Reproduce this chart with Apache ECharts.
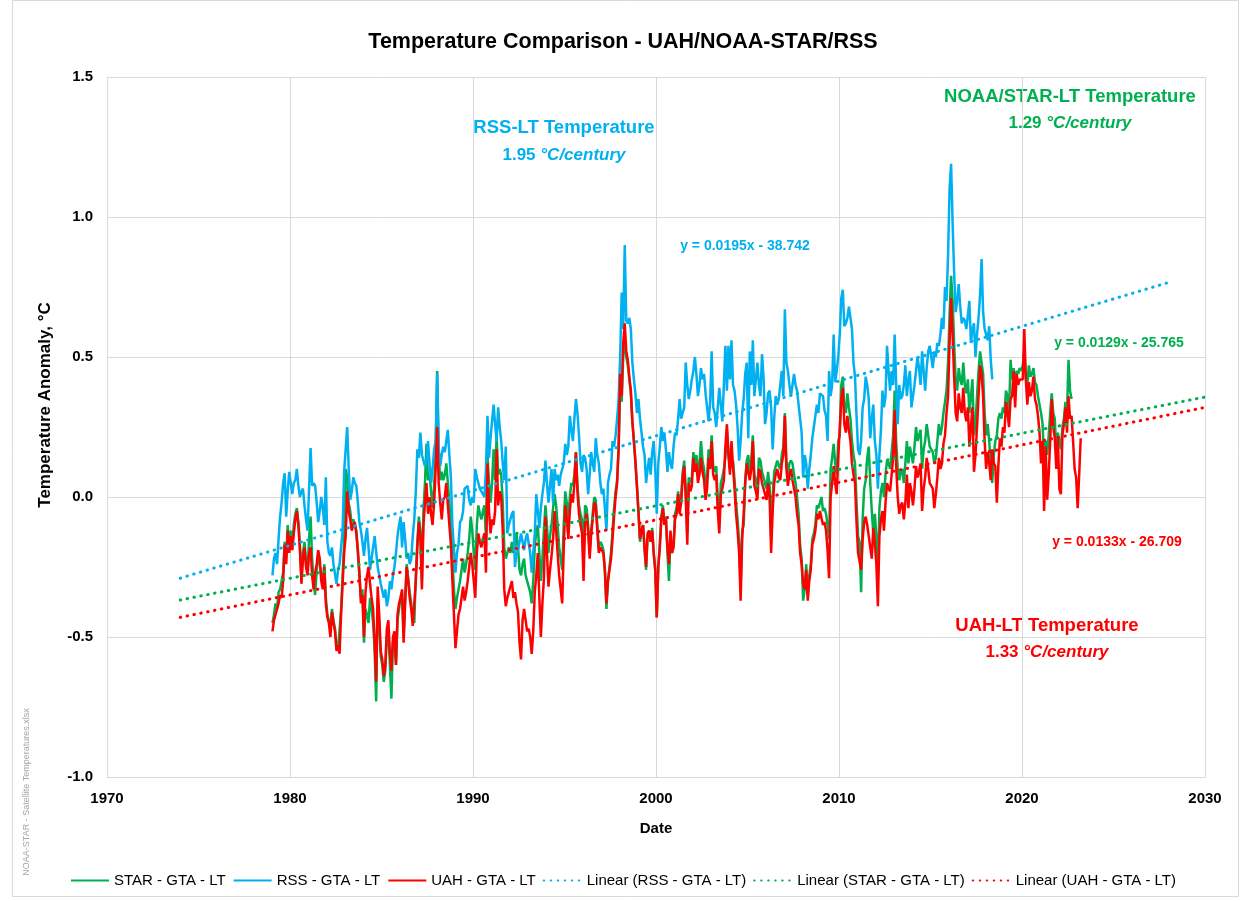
<!DOCTYPE html>
<html>
<head>
<meta charset="utf-8">
<script src="https://cdn.jsdelivr.net/npm/echarts@6/dist/echarts.min.js"></script>
<style>
  html, body { margin: 0; padding: 0; background: #fff; }
  #chart { width: 1246px; height: 901px; }
</style>
</head>
<body>
<div id="chart"></div>
<script>
// monthly anomalies, first value = Jan 1979
var startYear = 1979;

var uahLT = [
  -0.48,-0.44,-0.42,-0.40,-0.38,-0.35,-0.36,-0.30,-0.17,-0.24,-0.12,-0.20,
  -0.14,-0.19,-0.13,-0.08,-0.05,-0.10,-0.19,-0.31,-0.22,-0.18,-0.25,-0.28,
  -0.20,-0.18,-0.28,-0.33,-0.27,-0.24,-0.19,-0.22,-0.30,-0.33,-0.25,-0.38,
  -0.43,-0.45,-0.50,-0.41,-0.45,-0.48,-0.55,-0.53,-0.56,-0.42,-0.31,-0.20,
  -0.14,0.02,-0.05,-0.08,-0.12,-0.10,-0.09,-0.13,-0.19,-0.27,-0.38,-0.35,
  -0.50,-0.34,-0.28,-0.25,-0.31,-0.36,-0.40,-0.52,-0.66,-0.32,-0.42,-0.55,
  -0.58,-0.64,-0.60,-0.47,-0.44,-0.56,-0.62,-0.50,-0.48,-0.60,-0.42,-0.38,
  -0.36,-0.33,-0.52,-0.38,-0.25,-0.30,-0.36,-0.40,-0.46,-0.46,-0.30,-0.18,
  -0.09,-0.14,-0.33,-0.10,-0.02,0.05,-0.06,0.00,-0.06,-0.10,-0.02,0.10,
  0.25,0.05,-0.02,-0.08,-0.01,0.00,0.05,-0.03,-0.10,-0.17,-0.30,-0.42,
  -0.54,-0.48,-0.42,-0.40,-0.36,-0.32,-0.37,-0.34,-0.30,-0.25,-0.20,-0.24,
  -0.30,-0.36,-0.20,-0.13,-0.16,-0.18,-0.15,-0.13,-0.27,0.12,-0.05,-0.13,
  -0.08,-0.10,-0.05,0.17,-0.03,0.02,0.00,-0.12,-0.33,-0.39,-0.36,-0.34,
  -0.34,-0.30,-0.36,-0.34,-0.38,-0.41,-0.52,-0.58,-0.44,-0.40,-0.44,-0.48,
  -0.47,-0.50,-0.56,-0.48,-0.34,-0.28,-0.20,-0.36,-0.50,-0.38,-0.29,-0.07,
  -0.20,-0.32,-0.26,-0.21,-0.15,-0.05,-0.12,-0.20,-0.28,-0.33,-0.38,-0.18,
  -0.03,-0.08,-0.15,-0.05,0.01,-0.02,0.05,0.16,0.02,-0.06,-0.10,-0.13,
  -0.30,-0.08,-0.06,-0.12,-0.22,-0.13,-0.08,-0.02,-0.03,-0.12,-0.20,-0.18,
  -0.18,-0.20,-0.26,-0.38,-0.30,-0.26,-0.22,-0.15,-0.07,0.00,0.05,0.18,
  0.44,0.36,0.55,0.62,0.52,0.49,0.43,0.38,0.27,0.20,0.13,0.04,
  -0.05,-0.15,-0.12,-0.10,-0.18,-0.25,-0.13,-0.12,-0.16,-0.12,-0.20,-0.26,
  -0.43,-0.25,-0.18,-0.08,-0.04,-0.10,-0.08,-0.18,-0.24,-0.12,-0.20,-0.18,
  -0.08,-0.06,0.01,-0.06,-0.02,0.07,0.11,0.00,-0.17,0.05,0.02,0.04,
  0.14,0.09,0.12,0.05,0.08,0.14,0.09,0.06,-0.01,0.03,0.14,0.10,
  0.20,0.08,0.06,0.08,-0.05,-0.13,0.01,0.03,0.06,0.18,0.26,0.15,
  0.08,0.20,0.11,0.03,-0.06,-0.12,-0.20,-0.37,-0.15,-0.06,0.05,0.12,
  0.12,0.06,0.10,0.20,0.04,0.02,-0.01,0.10,0.09,0.05,0.03,0.01,
  -0.01,0.05,0.00,-0.20,-0.05,0.05,0.08,0.10,0.07,0.06,0.12,0.15,
  0.29,0.10,0.04,0.08,0.10,0.06,0.03,0.00,-0.06,-0.10,-0.20,-0.24,
  -0.31,-0.33,-0.26,-0.37,-0.30,-0.26,-0.17,-0.15,-0.12,-0.06,-0.08,-0.05,
  -0.05,-0.10,-0.09,-0.12,-0.19,-0.29,0.00,0.05,0.11,0.05,0.01,0.14,
  0.14,0.35,0.39,0.26,0.23,0.29,0.24,0.20,0.12,0.08,0.05,-0.09,
  -0.20,-0.20,-0.26,-0.15,-0.09,-0.07,-0.10,-0.14,-0.18,-0.22,-0.11,-0.16,
  -0.24,-0.39,-0.14,-0.08,-0.05,-0.12,-0.02,0.05,0.03,0.02,0.08,0.14,
  0.31,0.11,0.00,-0.06,-0.03,-0.02,-0.08,-0.02,0.08,-0.04,0.05,0.02,
  -0.03,0.03,0.11,0.07,0.09,0.12,-0.05,0.03,0.07,0.14,0.10,0.05,
  0.05,0.03,-0.04,0.01,0.07,0.14,0.10,0.12,0.19,0.22,0.30,0.36,
  0.55,0.71,0.58,0.43,0.30,0.27,0.37,0.32,0.30,0.39,0.30,0.27,
  0.32,0.18,0.25,0.32,0.09,0.15,0.25,0.36,0.47,0.44,0.36,0.20,
  0.10,0.16,0.12,0.06,0.17,0.12,0.11,-0.02,0.11,0.21,0.18,0.25,
  0.23,0.34,0.30,0.25,0.35,0.36,0.45,0.32,0.44,0.40,0.42,0.42,
  0.42,0.60,0.42,0.33,0.41,0.36,0.38,0.43,0.35,0.33,0.29,0.23,
  0.12,0.20,-0.05,0.18,-0.01,0.08,0.20,0.35,0.25,0.21,0.10,0.21,
  0.03,0.01,0.22,0.26,0.32,0.23,0.36,0.28,0.29,0.20,0.10,0.07,
  -0.04,0.08,0.21
];

var starLT = [
  -0.45,-0.42,-0.38,-0.40,-0.34,-0.33,-0.33,-0.27,-0.16,-0.22,-0.10,-0.19,
  -0.12,-0.17,-0.10,-0.06,-0.04,-0.09,-0.17,-0.29,-0.20,-0.16,-0.23,-0.27,
  -0.15,-0.07,-0.22,-0.31,-0.35,-0.26,-0.20,-0.20,-0.28,-0.30,-0.24,-0.36,
  -0.42,-0.44,-0.47,-0.40,-0.44,-0.47,-0.53,-0.55,-0.55,-0.40,-0.28,-0.17,
  0.10,0.07,-0.02,-0.05,-0.10,-0.08,-0.08,-0.12,-0.20,-0.28,-0.36,-0.33,
  -0.52,-0.40,-0.42,-0.45,-0.36,-0.40,-0.45,-0.55,-0.73,-0.36,-0.45,-0.57,
  -0.60,-0.66,-0.62,-0.50,-0.47,-0.60,-0.72,-0.52,-0.50,-0.60,-0.44,-0.40,
  -0.36,-0.34,-0.50,-0.36,-0.24,-0.29,-0.34,-0.38,-0.44,-0.45,-0.28,-0.16,
  -0.07,-0.12,-0.30,-0.05,0.05,0.19,0.06,0.08,0.02,-0.04,0.04,0.15,
  0.45,0.15,0.06,0.09,0.06,0.08,0.12,0.05,-0.02,-0.10,-0.22,-0.33,
  -0.40,-0.36,-0.33,-0.30,-0.26,-0.22,-0.27,-0.24,-0.20,-0.15,-0.07,-0.12,
  -0.20,-0.26,-0.10,-0.03,-0.06,-0.08,-0.05,-0.03,-0.15,0.15,0.05,-0.02,
  0.05,0.17,0.06,0.22,0.08,0.10,0.08,-0.02,-0.18,-0.22,-0.20,-0.18,
  -0.20,-0.16,-0.20,-0.18,-0.13,-0.18,-0.26,-0.28,-0.24,-0.22,-0.28,-0.30,
  -0.30,-0.34,-0.38,-0.30,-0.18,-0.12,-0.10,-0.20,-0.30,-0.22,-0.12,-0.03,
  -0.10,-0.20,-0.14,-0.10,-0.04,0.01,-0.03,-0.10,-0.18,-0.22,-0.26,-0.10,
  0.02,-0.02,-0.08,0.00,0.05,0.04,0.08,0.16,0.04,-0.03,-0.06,-0.08,
  -0.24,-0.03,-0.04,-0.10,-0.20,-0.12,-0.06,0.00,-0.01,-0.10,-0.18,-0.16,
  -0.17,-0.19,-0.27,-0.40,-0.30,-0.25,-0.20,-0.12,-0.04,0.02,0.06,0.17,
  0.40,0.34,0.50,0.57,0.50,0.47,0.42,0.37,0.27,0.20,0.12,0.04,
  -0.06,-0.16,-0.12,-0.10,-0.19,-0.26,-0.14,-0.12,-0.16,-0.11,-0.20,-0.26,
  -0.43,-0.25,-0.17,-0.07,-0.03,-0.09,-0.07,-0.20,-0.30,-0.14,-0.20,-0.17,
  -0.06,-0.04,0.02,-0.04,0.00,0.09,0.13,0.03,-0.13,0.07,0.05,0.07,
  0.16,0.12,0.15,0.09,0.12,0.20,0.13,0.10,0.04,0.07,0.17,0.13,
  0.22,0.11,0.09,0.11,-0.01,-0.09,0.05,0.07,0.10,0.14,0.24,0.16,
  0.10,0.12,0.13,0.06,-0.02,-0.08,-0.16,-0.32,-0.12,-0.10,0.06,0.13,
  0.15,0.09,0.13,0.22,0.08,0.06,0.03,0.14,0.13,0.09,0.07,0.05,
  0.03,0.09,0.04,-0.14,0.00,0.09,0.11,0.13,0.11,0.10,0.15,0.18,
  0.30,0.13,0.08,0.12,0.13,0.12,0.08,0.05,0.00,-0.06,-0.17,-0.22,
  -0.37,-0.33,-0.24,-0.35,-0.28,-0.24,-0.15,-0.13,-0.10,-0.03,-0.04,-0.02,
  0.00,-0.05,-0.04,-0.06,-0.10,-0.15,0.10,0.14,0.19,0.12,0.08,0.20,
  0.22,0.40,0.43,0.32,0.30,0.37,0.32,0.28,0.20,0.15,0.12,-0.02,
  -0.14,-0.16,-0.34,-0.08,0.03,0.06,0.14,0.18,0.05,-0.05,-0.13,-0.06,
  -0.14,-0.28,-0.04,0.02,0.05,0.00,0.08,0.13,0.12,0.10,0.16,0.22,
  0.38,0.20,0.10,0.06,0.09,0.10,0.05,0.12,0.20,0.12,0.18,0.15,
  0.12,0.18,0.25,0.20,0.22,0.24,0.10,0.17,0.20,0.26,0.22,0.18,
  0.18,0.16,0.12,0.14,0.20,0.26,0.22,0.25,0.30,0.34,0.38,0.48,
  0.65,0.79,0.70,0.55,0.42,0.38,0.46,0.42,0.40,0.48,0.40,0.37,
  0.42,0.30,0.36,0.42,0.22,0.26,0.36,0.45,0.52,0.52,0.44,0.30,
  0.22,0.26,0.20,0.12,0.05,0.15,0.20,0.22,0.28,0.30,0.28,0.32,
  0.30,0.38,0.36,0.30,0.49,0.42,0.46,0.40,0.45,0.44,0.46,0.45,
  0.47,0.52,0.43,0.40,0.47,0.43,0.44,0.46,0.41,0.40,0.36,0.33,
  0.30,0.26,0.13,0.20,0.15,0.22,0.30,0.37,0.30,0.28,0.15,0.23,
  0.20,0.17,0.25,0.28,0.34,0.30,0.49,0.38,0.35
];

var rssLT = [
  -0.28,-0.22,-0.20,-0.24,-0.15,-0.07,-0.02,0.05,0.085,-0.07,0.02,0.09,
  0.09,0.01,0.05,0.06,0.10,0.04,0.00,0.02,0.03,-0.03,-0.08,-0.12,
  -0.12,0.175,0.04,0.05,0.04,-0.02,-0.09,-0.05,0.00,-0.04,-0.10,0.07,
  -0.16,-0.20,-0.21,-0.18,-0.24,-0.24,-0.31,-0.26,-0.24,-0.18,-0.12,0.09,
  0.09,0.25,0.10,-0.01,0.02,0.07,0.05,0.04,-0.02,-0.09,-0.12,-0.16,
  -0.21,-0.15,-0.11,-0.18,-0.26,-0.22,-0.18,-0.14,-0.14,-0.25,-0.28,-0.31,
  -0.31,-0.36,-0.33,-0.39,-0.36,-0.30,-0.33,-0.28,-0.25,-0.20,-0.14,-0.10,
  -0.07,-0.18,-0.09,-0.15,-0.22,-0.20,-0.24,-0.22,-0.14,-0.08,0.02,0.17,
  0.14,0.23,0.15,0.15,0.11,0.13,0.20,0.12,0.05,0.10,0.17,0.20,
  0.44,0.18,0.11,0.15,0.18,0.16,0.20,0.24,0.15,0.07,-0.10,-0.10,
  -0.27,-0.20,-0.17,-0.09,-0.08,-0.05,0.03,0.03,0.04,-0.01,-0.03,0.00,
  -0.02,0.10,0.07,0.05,0.03,0.02,0.01,0.00,0.10,0.29,0.14,0.21,
  0.21,0.33,0.26,0.20,0.32,0.25,0.20,0.12,0.06,0.18,-0.13,-0.10,
  -0.08,-0.06,-0.05,-0.25,-0.20,-0.19,-0.16,-0.13,-0.16,-0.19,-0.15,-0.13,
  -0.13,-0.20,-0.27,-0.20,-0.13,0.01,-0.05,-0.11,-0.04,0.01,0.05,0.13,
  0.05,-0.02,0.04,0.10,-0.02,0.10,0.06,0.08,0.04,0.08,0.10,0.12,
  0.19,0.15,0.18,0.29,0.24,0.20,0.28,0.35,0.30,0.22,0.12,0.09,
  0.15,0.14,0.10,0.01,0.08,0.16,0.12,0.09,0.21,0.15,0.12,0.05,
  0.01,0.03,-0.04,-0.12,0.05,0.08,0.10,0.20,0.18,0.22,0.28,0.35,
  0.50,0.73,0.60,0.90,0.63,0.62,0.64,0.60,0.48,0.42,0.37,0.30,
  0.35,0.28,0.23,0.18,0.15,0.05,0.10,0.14,0.08,0.16,0.20,0.10,
  -0.06,0.12,0.18,0.25,0.20,0.23,0.17,0.09,0.16,0.12,0.10,0.18,
  0.23,0.22,0.28,0.35,0.28,0.30,0.32,0.48,0.40,0.35,0.38,0.42,
  0.45,0.50,0.44,0.36,0.40,0.46,0.42,0.44,0.37,0.32,0.27,0.34,
  0.52,0.32,0.30,0.25,0.32,0.39,0.33,0.27,0.40,0.54,0.38,0.54,
  0.42,0.56,0.40,0.38,0.33,0.25,0.13,0.20,0.30,0.35,0.44,0.48,
  0.21,0.52,0.40,0.56,0.36,0.42,0.48,0.40,0.36,0.51,0.43,0.26,
  0.30,0.37,0.38,0.32,0.17,0.28,0.36,0.33,0.35,0.40,0.45,0.36,
  0.67,0.48,0.45,0.40,0.36,0.40,0.44,0.40,0.38,0.33,0.28,0.23,
  0.07,0.15,0.12,0.03,0.10,0.15,0.21,0.25,0.29,0.33,0.30,0.37,
  0.37,0.36,0.31,0.29,0.20,0.45,0.36,0.40,0.58,0.41,0.45,0.50,
  0.58,0.71,0.74,0.61,0.62,0.64,0.68,0.64,0.60,0.48,0.43,0.29,
  0.17,0.15,0.20,0.32,0.35,0.43,0.40,0.35,0.21,0.28,0.33,0.20,
  0.15,0.03,0.15,0.24,0.38,0.32,0.36,0.54,0.45,0.38,0.45,0.40,
  0.58,0.40,0.26,0.40,0.35,0.36,0.40,0.47,0.36,0.42,0.45,0.32,
  0.36,0.40,0.45,0.50,0.46,0.40,0.52,0.45,0.38,0.46,0.52,0.54,
  0.50,0.46,0.52,0.50,0.55,0.54,0.58,0.64,0.60,0.75,0.70,0.86,
  1.10,1.19,0.98,0.80,0.66,0.70,0.76,0.68,0.62,0.64,0.63,0.60,
  0.60,0.70,0.55,0.60,0.62,0.50,0.58,0.64,0.72,0.85,0.66,0.60,
  0.60,0.56,0.61,0.49,0.42
];

// linear trend end points [year, value] as drawn
var rssTrend = [[1974, -0.29], [2028.2, 0.77]];
var starTrend = [[1974, -0.368], [2030, 0.357]];
var uahTrend = [[1974, -0.43], [2030, 0.32]];

var GREEN = '#00B050', BLUE = '#00B0F0', RED = '#FF0000';
var FONT = '"Liberation Sans", Arial, sans-serif';

function toPoints(arr) {
  return arr.map(function (v, i) {
    return [startYear + (i + 0.5) / 12, v];
  });
}

var dom = document.getElementById('chart');
var myChart = echarts.init(dom);
var option = null;

var dotStyle = function (color) {
  return { color: color, width: 3, type: [0.5, 6.5], cap: 'round' };
};

var rateText = function (x, y, rate, color) {
  return { type: 'text', x: x, y: y,
    style: { text: '{n|' + rate + ' }{i|°C/century}', align: 'center', verticalAlign: 'middle',
      fill: color,
      rich: {
        n: { fontFamily: FONT, fontSize: 17, fontWeight: 'bold', fill: color },
        i: { fontFamily: FONT, fontSize: 17, fontWeight: 'bold', fontStyle: 'italic', fill: color }
      } } };
};

var plainText = function (x, y, text, color, size) {
  return { type: 'text', x: x, y: y,
    style: { text: text, fontFamily: FONT, fontSize: size, fontWeight: 'bold',
      fill: color, align: 'center', verticalAlign: 'middle' } };
};

option = {
  animation: false,
  backgroundColor: '#fff',
  title: {
    text: 'Temperature Comparison - UAH/NOAA-STAR/RSS',
    left: 'center',
    top: 26,
    textStyle: { fontFamily: FONT, fontSize: 21.5, fontWeight: 'bold', color: '#000' }
  },
  grid: { left: 107, right: 41, top: 77, bottom: 124, containLabel: false },
  legend: {
    top: 868,
    left: 'center',
    itemWidth: 38,
    itemHeight: 12,
    itemGap: 7,
    itemStyle: { opacity: 0 },
    textStyle: { fontFamily: FONT, fontSize: 15, color: '#000' },
    data: ['STAR - GTA - LT', 'RSS - GTA - LT', 'UAH - GTA - LT',
      'Linear (RSS - GTA - LT)', 'Linear (STAR - GTA - LT)', 'Linear (UAH - GTA - LT)']
  },
  xAxis: {
    type: 'value',
    min: 1970,
    max: 2030,
    interval: 10,
    name: 'Date',
    nameLocation: 'middle',
    nameGap: 44,
    nameTextStyle: { fontFamily: FONT, fontSize: 15, fontWeight: 'bold', color: '#000' },
    axisLine: { show: true, onZero: false, lineStyle: { color: '#d9d9d9', width: 1 } },
    axisTick: { show: false },
    axisLabel: {
      margin: 14, fontFamily: FONT, fontSize: 15, fontWeight: 'bold', color: '#000',
      formatter: function (v) { return String(v); }
    },
    splitLine: { show: true, lineStyle: { color: '#d9d9d9', width: 1 } }
  },
  yAxis: {
    type: 'value',
    min: -1.0,
    max: 1.5,
    interval: 0.5,
    axisLine: { show: true, lineStyle: { color: '#d9d9d9', width: 1 } },
    axisTick: { show: false },
    axisLabel: {
      margin: 14,
      fontFamily: FONT, fontSize: 15, fontWeight: 'bold', color: '#000',
      formatter: function (v) { return v.toFixed(1); }
    },
    splitLine: { show: true, lineStyle: { color: '#d9d9d9', width: 1 } }
  },
  series: [
    {
      name: 'STAR - GTA - LT', type: 'line', showSymbol: false, symbol: 'none',
      data: toPoints(starLT), color: GREEN,
      lineStyle: { color: GREEN, width: 2.5 }, z: 2
    },
    {
      name: 'RSS - GTA - LT', type: 'line', showSymbol: false, symbol: 'none',
      data: toPoints(rssLT), color: BLUE,
      lineStyle: { color: BLUE, width: 2.5 }, z: 3
    },
    {
      name: 'UAH - GTA - LT', type: 'line', showSymbol: false, symbol: 'none',
      data: toPoints(uahLT), color: RED,
      lineStyle: { color: RED, width: 2.5 }, z: 4
    },
    {
      name: 'Linear (RSS - GTA - LT)', type: 'line', symbol: 'none',
      data: rssTrend, color: BLUE, lineStyle: dotStyle(BLUE), z: 5
    },
    {
      name: 'Linear (STAR - GTA - LT)', type: 'line', symbol: 'none',
      data: starTrend, color: GREEN, lineStyle: dotStyle(GREEN), z: 5
    },
    {
      name: 'Linear (UAH - GTA - LT)', type: 'line', symbol: 'none',
      data: uahTrend, color: RED, lineStyle: dotStyle(RED), z: 5
    }
  ],
  graphic: [
    { type: 'rect', silent: true, shape: { x: 12.5, y: 0.5, width: 1226, height: 896 },
      style: { fill: 'none', stroke: '#d9d9d9', lineWidth: 1 } },
    { type: 'text', x: 45, y: 405, rotation: Math.PI / 2,
      style: { text: 'Temperature Anomaly, °C', fontFamily: FONT, fontSize: 17, fontWeight: 'bold',
        fill: '#000', align: 'center', verticalAlign: 'middle' } },
    { type: 'text', x: 27, y: 792, rotation: Math.PI / 2,
      style: { text: 'NOAA-STAR - Satellite Temperatures.xlsx', fontFamily: FONT, fontSize: 9,
        fill: '#a6a6a6', align: 'center', verticalAlign: 'middle' } },

    plainText(564, 128, 'RSS-LT Temperature', BLUE, 18.5),
    rateText(564, 155, '1.95', BLUE),
    plainText(1070, 97, 'NOAA/STAR-LT Temperature', GREEN, 18.5),
    rateText(1070, 123, '1.29', GREEN),
    plainText(1047, 626, 'UAH-LT Temperature', RED, 18.5),
    rateText(1047, 652, '1.33', RED),

    plainText(745, 246, 'y = 0.0195x - 38.742', BLUE, 14),
    plainText(1119, 343, 'y = 0.0129x - 25.765', GREEN, 14),
    plainText(1117, 542, 'y = 0.0133x - 26.709', RED, 14)
  ]
};

if (option && typeof option === "object") {
  myChart.setOption(option, true);
}
</script>
</body>
</html>
